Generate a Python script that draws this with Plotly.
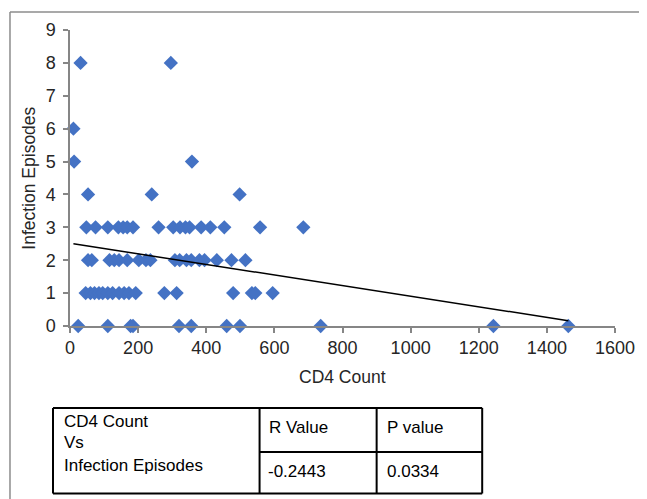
import plotly.graph_objects as go

# ---- data ----
cd4_row8 = [31, 296]
cd4_row6 = [10]
cd4_row5 = [12, 358]
cd4_row4 = [53, 240, 498]
cd4_row3 = [48, 75, 111, 142, 156, 168, 185, 260, 303, 323, 339, 351, 385, 412, 453, 558, 685]
cd4_row2 = [53, 64, 116, 130, 144, 168, 202, 223, 236, 308, 322, 342, 356, 380, 395, 431, 474, 515]
cd4_row1 = [46, 60, 72, 85, 96, 111, 125, 144, 159, 173, 193, 277, 313, 479, 534, 544, 595]
cd4_row0 = [24, 111, 178, 185, 320, 356, 460, 499, 736, 1243, 1463]

episodes_levels = [8, 6, 5, 4, 3, 2, 1, 0]
cd4_by_level = [cd4_row8, cd4_row6, cd4_row5, cd4_row4, cd4_row3, cd4_row2, cd4_row1, cd4_row0]

trend_x = [10, 1463]
trend_y = [2.50, 0.16]

x_ticks = [0, 200, 400, 600, 800, 1000, 1200, 1400, 1600]
y_ticks = [0, 1, 2, 3, 4, 5, 6, 7, 8, 9]

table_header = ["CD4 Count", "Vs", "Infection Episodes", "R Value", "P value"]
r_value = "-0.2443"
p_value = "0.0334"

xs, ys = [], []
for lvl, vals in zip(episodes_levels, cd4_by_level):
    for v in vals:
        xs.append(v)
        ys.append(lvl)

FONT = "Liberation Sans, Arial, sans-serif"
PAGE_OFF = 8           # default body margin of the html page
W, H = 647 - PAGE_OFF, 499 - PAGE_OFF
L, R, T, B = 70, 624, 30, 326   # plot area in page pixels


def pxx(p):
    return (p - L) / (R - L)


def pxy(p):
    return (B - p) / (B - T)


fig = go.Figure()
fig.add_trace(go.Scatter(
    x=xs, y=ys, mode="markers",
    marker=dict(symbol="diamond", size=11, color="#4472C4", line=dict(width=0)),
    cliponaxis=False, showlegend=False,
))
fig.add_trace(go.Scatter(
    x=trend_x, y=trend_y, mode="lines",
    line=dict(color="black", width=1.5),
    cliponaxis=False, showlegend=False,
))

axis_common = dict(
    showgrid=False, zeroline=False, showline=True,
    linecolor="#868686", linewidth=1.5,
    ticks="outside", ticklen=5, tickcolor="#868686", tickwidth=1.5,
    tickfont=dict(family=FONT, size=18, color="#262626"),
)
fig.update_xaxes(range=[0, 1600], tickvals=x_ticks, ticktext=[str(v) for v in x_ticks], **axis_common)
fig.update_yaxes(range=[0, 9], tickvals=y_ticks, ticktext=[str(v) for v in y_ticks],
                 ticklabelstandoff=4, **axis_common)

shapes = []
line_gray = dict(color="#8c8c8c", width=1.5)
shapes.append(dict(type="line", xref="paper", yref="paper",
                   x0=pxx(9), y0=pxy(12), x1=pxx(660), y1=pxy(12), line=line_gray))
shapes.append(dict(type="line", xref="paper", yref="paper",
                   x0=pxx(9), y0=pxy(12), x1=pxx(9), y1=pxy(510), line=line_gray))

tl = dict(color="black", width=2)
tx0, tx1, tx2, tx3 = 52.7, 262.7, 381.7, 489
ty0, ty1, ty2 = 408, 452, 493.5
for (a, b, c, d) in [
    (tx0, ty0, tx3, ty0), (tx1, ty1, tx3, ty1), (tx0, ty2, tx3, ty2),
    (tx0, ty0, tx0, ty2), (tx1, ty0, tx1, ty2), (tx2, ty0, tx2, ty2), (tx3, ty0, tx3, ty2),
]:
    shapes.append(dict(type="line", xref="paper", yref="paper",
                       x0=pxx(a), y0=pxy(b), x1=pxx(c), y1=pxy(d), line=tl))

annotations = []
annotations.append(dict(text="CD4 Count", x=pxx(347), y=pxy(377), xref="paper", yref="paper",
                        showarrow=False, xanchor="center", yanchor="middle",
                        font=dict(family=FONT, size=17.5, color="#262626")))
annotations.append(dict(text="Infection Episodes", x=pxx(28), y=pxy(178), xref="paper", yref="paper",
                        showarrow=False, xanchor="center", yanchor="middle", textangle=-90,
                        font=dict(family=FONT, size=17.5, color="#262626")))

tf = dict(family=FONT, size=17, color="black")
cells = [
    (table_header[0], 62, 421),
    (table_header[1], 62, 442),
    (table_header[2], 62, 465),
    (table_header[3], 270, 427),
    (table_header[4], 390, 427),
    (r_value, 269, 471),
    (p_value, 390, 471),
]
for txt, cx, cy in cells:
    annotations.append(dict(text=txt, x=pxx(cx), y=pxy(cy), xref="paper", yref="paper",
                            showarrow=False, xanchor="left", yanchor="middle", font=tf))

fig.update_layout(
    width=W, height=H, autosize=False,
    margin=dict(l=L - PAGE_OFF, r=W - (R - PAGE_OFF), t=T - PAGE_OFF, b=H - (B - PAGE_OFF), pad=0),
    paper_bgcolor="white", plot_bgcolor="white",
    shapes=shapes, annotations=annotations, showlegend=False,
)

fig.write_html("out.html")
